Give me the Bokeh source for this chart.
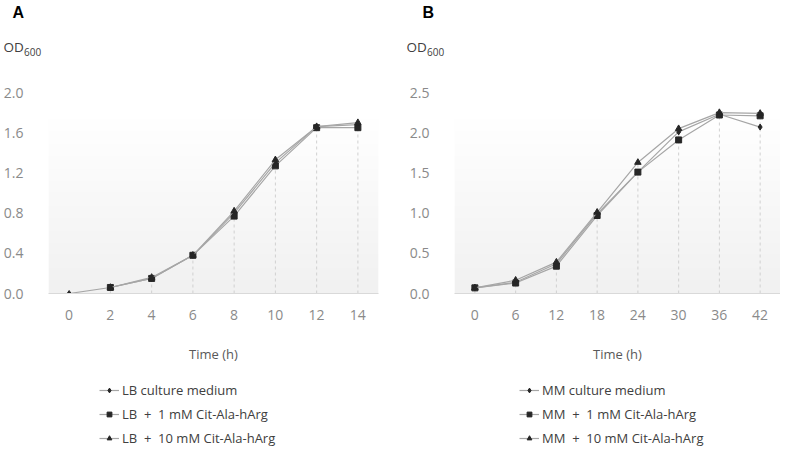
import numpy as np
from bokeh.plotting import figure
from bokeh.models import (Range1d, FixedTicker, PrintfTickFormatter, Label, Legend,
                          LegendItem, ColumnDataSource, Whisker, TeeHead)
from bokeh.layouts import row, column
from bokeh.embed import file_html
from bokeh.resources import INLINE

NaN = float("nan")

# ---------------- data ----------------
a_time = [0, 2, 4, 6, 8, 10, 12, 14]
a_lb = [0.00, 0.06, 0.15, 0.38, 0.80, 1.30, 1.66, 1.68]
a_lb_err = [0.005, 0.005, 0.01, 0.01, 0.02, 0.03, 0.04, 0.04]
a_lb1 = [NaN, 0.06, 0.15, 0.38, 0.77, 1.27, 1.65, 1.65]
a_lb1_err = [0.0, 0.005, 0.01, 0.01, 0.02, 0.03, 0.04, 0.05]
a_lb10 = [NaN, 0.06, 0.16, 0.38, 0.82, 1.33, 1.66, 1.70]
a_lb10_err = [0.0, 0.005, 0.01, 0.01, 0.02, 0.03, 0.04, 0.05]
a_yticks = [0.0, 0.4, 0.8, 1.2, 1.6, 2.0]
a_xticks = [0, 2, 4, 6, 8, 10, 12, 14]

b_time = [0, 6, 12, 18, 24, 30, 36, 42]
b_mm = [0.07, 0.14, 0.37, 0.99, 1.51, 2.01, 2.23, 2.07]
b_mm_err = [0.005, 0.01, 0.01, 0.02, 0.02, 0.05, 0.02, 0.06]
b_mm1 = [0.07, 0.13, 0.34, 0.97, 1.51, 1.91, 2.22, 2.21]
b_mm1_err = [0.005, 0.01, 0.01, 0.02, 0.02, 0.03, 0.02, 0.03]
b_mm10 = [0.07, 0.165, 0.39, 1.01, 1.63, 2.05, 2.25, 2.24]
b_mm10_err = [0.005, 0.01, 0.01, 0.02, 0.06, 0.03, 0.02, 0.03]
b_yticks = [0.0, 0.5, 1.0, 1.5, 2.0, 2.5]
b_xticks = [0, 6, 12, 18, 24, 30, 36, 42]

a_names = ["LB culture medium", "LB  +  1 mM Cit-Ala-hArg", "LB  +  10 mM Cit-Ala-hArg"]
b_names = ["MM culture medium", "MM  +  1 mM Cit-Ala-hArg", "MM  +  10 mM Cit-Ala-hArg"]

FONT = "Open Sans"
LINE_C = "#a6a6a6"
MARK_C = "#262626"
ERR_C = "#808080"
markers = [("diamond", 6), ("square", 6), ("triangle", 6.5)]

HEAD_H = 82
TOP = 10
FRAME_H = 201
BOTTOM = 75
LEG_H = 80


def bare(width, height):
    f = figure(width=width, height=height, x_range=Range1d(0, width),
               y_range=Range1d(height, 0), x_axis_type=None, y_axis_type=None,
               output_backend="svg", toolbar_location=None,
               min_border=0, frame_width=width, frame_height=height)
    f.outline_line_color = None
    f.grid.visible = False
    return f


def make_header(letter, width, letter_x, od_x):
    h = bare(width, HEAD_H)
    h.add_layout(Label(x=letter_x, y=3, text=letter, text_font="Liberation Sans",
                       text_font_style="bold", text_font_size="16px",
                       text_color="#000000", text_baseline="top", text_align="left"))
    h.add_layout(Label(x=od_x, y=46, text="OD", text_font=FONT,
                       text_font_size="13.5px", text_color="#404040",
                       text_baseline="middle", text_align="left"))
    h.add_layout(Label(x=od_x + 20.5, y=51, text="600", text_font=FONT,
                       text_font_size="10px", text_color="#404040",
                       text_baseline="middle", text_align="left"))
    return h


def add_series(fig, src, mk, sz, visible=True):
    ln = fig.line("x", "y", source=src, line_color=LINE_C, line_width=1.2, visible=visible)
    sc = fig.scatter("x", "y", source=src, marker=mk, size=sz,
                     fill_color=MARK_C, line_color=MARK_C, visible=visible)
    return ln, sc


def make_panel(xs, series, errs, names, xr, yr, yticks, xticks,
               width, left, right, legend_x, frame_w):
    p = figure(width=width, height=TOP + FRAME_H + BOTTOM,
               x_range=Range1d(*xr), y_range=Range1d(*yr),
               output_backend="svg", toolbar_location=None,
               min_border_left=left, min_border_right=right,
               min_border_top=TOP, min_border_bottom=BOTTOM,
               frame_width=frame_w, frame_height=FRAME_H)
    p.outline_line_color = None
    p.grid.visible = False
    p.background_fill_color = "white"
    p.border_fill_color = "white"

    # soft vertical gradient background of the plot area
    n = 120
    t = np.linspace(0, 1, n)  # 0 bottom .. 1 top
    start = 0.87
    g = np.where(t > start, 255, 255 - (1 - t / start) * 14).astype(np.uint32)
    img = (255 << 24) | (g << 16) | (g << 8) | g
    img = img.reshape(n, 1).view(np.uint32)
    p.image_rgba(image=[img], x=xr[0], y=yr[0], dw=xr[1] - xr[0], dh=yr[1] - yr[0])

    # drop lines
    ymax = np.nanmax(np.array(series, dtype=float), axis=0)
    p.segment(x0=xs, y0=[0] * len(xs), x1=xs, y1=ymax,
              line_color="#d0d0d0", line_dash="3 3", line_width=1)

    # legend strip below (its own small canvas)
    lg = bare(width, LEG_H)
    items = []
    for s, e, nm, (mk, sz) in zip(series, errs, names, markers):
        src = ColumnDataSource(dict(x=xs, y=s,
                                    lo=[v - d for v, d in zip(s, e)],
                                    hi=[v + d for v, d in zip(s, e)]))
        add_series(p, src, mk, sz)
        w = Whisker(source=src, base="x", upper="hi", lower="lo",
                    line_color=ERR_C, line_width=1,
                    upper_head=TeeHead(size=6, line_color=ERR_C, line_width=1),
                    lower_head=TeeHead(size=6, line_color=ERR_C, line_width=1))
        p.add_layout(w)
        ln2, sc2 = add_series(lg, src, mk, sz, visible=False)
        items.append(LegendItem(label=nm, renderers=[ln2, sc2]))

    leg = Legend(items=items, location=(legend_x, 0), orientation="vertical",
                 glyph_width=20, glyph_height=12, label_height=20, spacing=4,
                 padding=0, margin=0, label_standoff=3,
                 border_line_color=None, background_fill_alpha=0,
                 inactive_fill_alpha=0,
                 label_text_font=FONT, label_text_font_size="13px",
                 label_text_color="#404040")
    lg.add_layout(leg, "center")

    # axes
    p.yaxis.ticker = FixedTicker(ticks=yticks)
    p.yaxis.formatter = PrintfTickFormatter(format="%.1f")
    p.yaxis.axis_line_color = None
    p.yaxis.major_tick_line_color = None
    p.yaxis.minor_tick_line_color = None
    p.yaxis.major_label_standoff = 19
    p.xaxis.ticker = FixedTicker(ticks=xticks)
    p.xaxis.axis_line_color = "#d9d9d9"
    p.xaxis.major_tick_line_color = None
    p.xaxis.minor_tick_line_color = None
    p.xaxis.major_label_standoff = 10
    p.xaxis.axis_label = "Time (h)"
    p.xaxis.axis_label_standoff = 22
    p.xaxis.axis_label_text_font = FONT
    p.xaxis.axis_label_text_font_size = "13px"
    p.xaxis.axis_label_text_font_style = "normal"
    p.xaxis.axis_label_text_color = "#595959"
    for ax in (p.xaxis, p.yaxis):
        ax.major_label_text_font = FONT
        ax.major_label_text_font_size = "14px"
        ax.major_label_text_color = "#8a8a8a"
    return p, lg


ha = make_header("A", 392, letter_x=12, od_x=3)
hb = make_header("B", 379, letter_x=30, od_x=14)
pa, la = make_panel(a_time, [a_lb, a_lb1, a_lb10], [a_lb_err, a_lb1_err, a_lb10_err],
                    a_names, (-1, 15), (0, 2.0), a_yticks, a_xticks,
                    width=392, left=39, right=23, legend_x=99, frame_w=330)
pb, lb = make_panel(b_time, [b_mm, b_mm1, b_mm10], [b_mm_err, b_mm1_err, b_mm10_err],
                    b_names, (-3, 45), (0, 2.5), b_yticks, b_xticks,
                    width=379, left=53, right=0, legend_x=127, frame_w=326)

layout = column(row(ha, hb, spacing=0), row(pa, pb, spacing=0),
                row(la, lb, spacing=0), spacing=0)
open("out.html", "w").write(file_html(layout, INLINE))
